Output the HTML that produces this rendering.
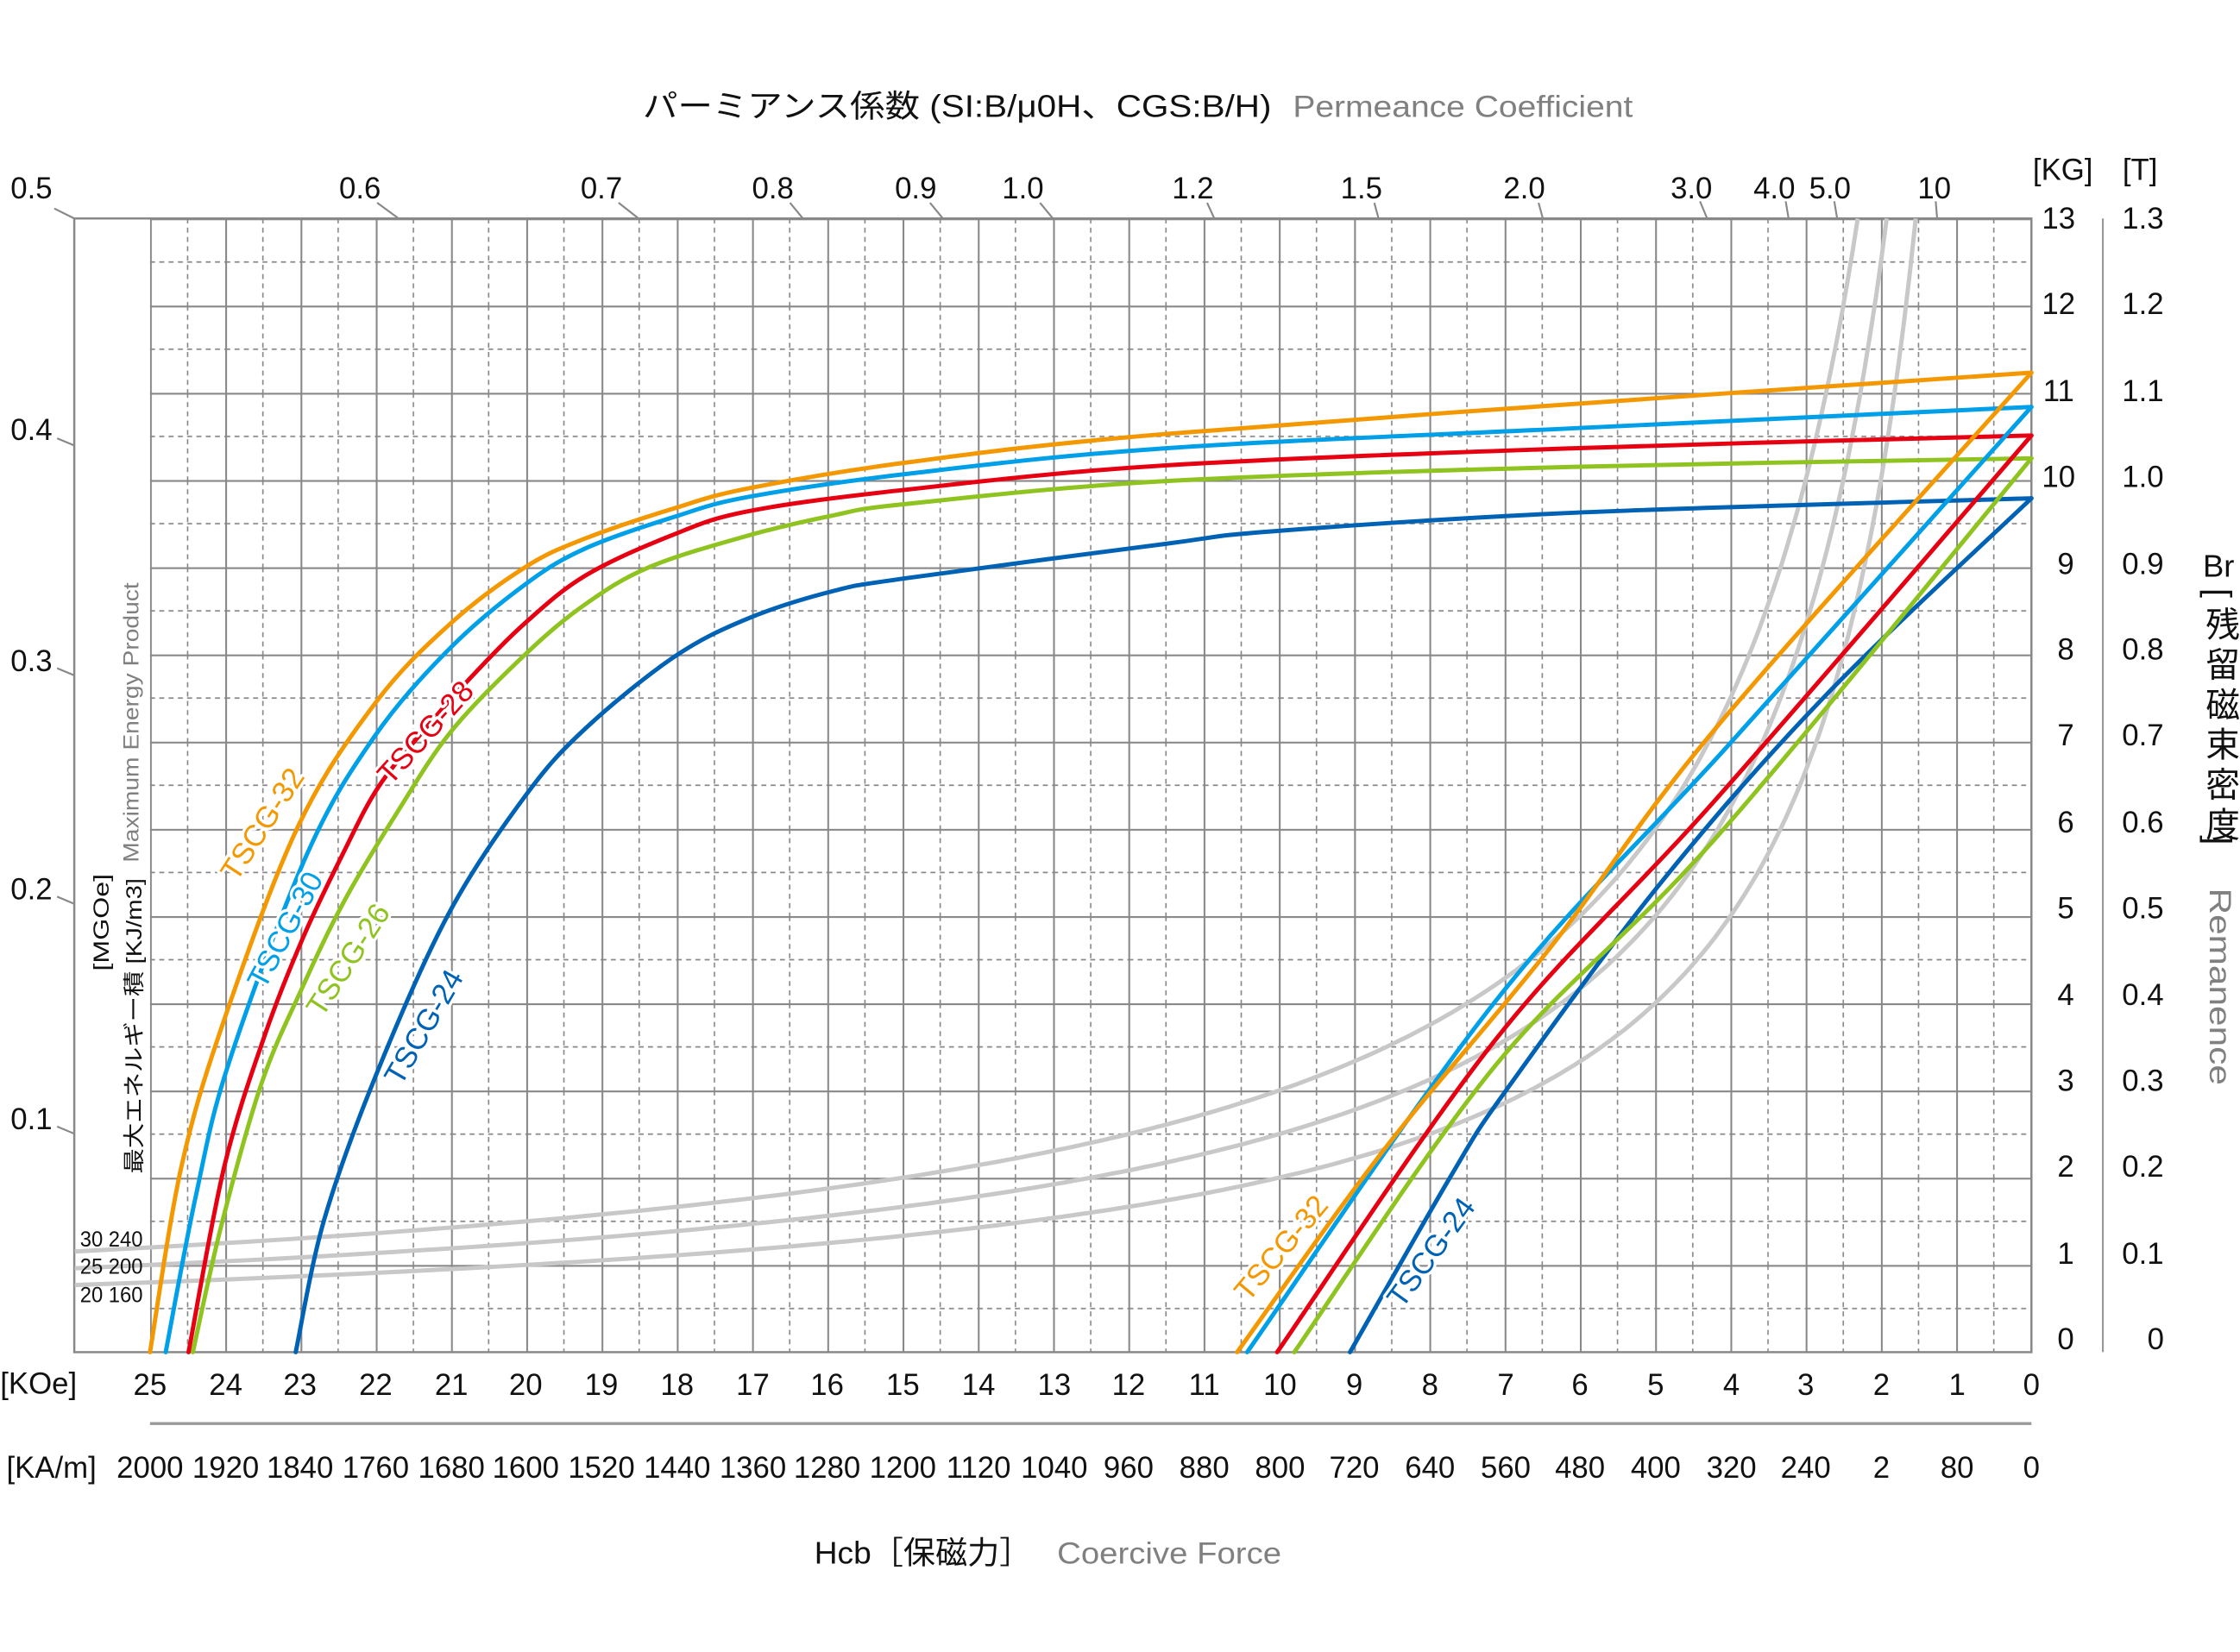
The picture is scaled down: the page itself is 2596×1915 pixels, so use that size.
<!DOCTYPE html>
<html><head><meta charset="utf-8">
<style>
html,body{margin:0;padding:0;background:#fff;}
svg{display:block;}
text{font-family:"Liberation Sans","Noto Sans CJK JP",sans-serif;fill:#111;}
.g{fill:#808080;}
.t{font-size:21px;}
.lab{font-size:21px;stroke:#fff;stroke-width:4px;paint-order:stroke;stroke-linejoin:round;}
</style></head><body>
<svg id="s" width="2596" height="1915" viewBox="0 0 1568 1157" preserveAspectRatio="none" xmlns="http://www.w3.org/2000/svg">
<defs>
<pattern id="grid" patternUnits="userSpaceOnUse" x="105" y="152.96" width="52.68" height="61.08">
<line x1="0.6" y1="0" x2="0.6" y2="61.08" stroke="#888" stroke-width="1.3"/>
<line x1="0" y1="0.6" x2="52.68" y2="0.6" stroke="#888" stroke-width="1.3"/>
<line x1="26.34" y1="0" x2="26.34" y2="61.08" stroke="#888" stroke-width="1" stroke-dasharray="3.5 3"/>
<line x1="0" y1="30.54" x2="52.68" y2="30.54" stroke="#888" stroke-width="1" stroke-dasharray="3.5 3"/>
</pattern>
</defs>
<rect x="105" y="153" width="1317" height="794" fill="url(#grid)"/>
<rect x="52" y="153" width="1370" height="794" fill="none" stroke="#888" stroke-width="1.5"/>
<line x1="1472" y1="153" x2="1472" y2="947" stroke="#999" stroke-width="1.3"/>
<line x1="105" y1="997" x2="1422" y2="997" stroke="#999" stroke-width="2"/>

<g stroke="#888" stroke-width="1.3">
<line x1="38" y1="146" x2="52" y2="153"/>
<line x1="264" y1="142" x2="279" y2="153"/>
<line x1="433" y1="142" x2="447" y2="153"/>
<line x1="553" y1="142" x2="562" y2="153"/>
<line x1="651" y1="142" x2="660" y2="153"/>
<line x1="728" y1="142" x2="737" y2="153"/>
<line x1="845" y1="142" x2="850" y2="153"/>
<line x1="962" y1="142" x2="965" y2="153"/>
<line x1="1077" y1="142" x2="1080" y2="153"/>
<line x1="1190" y1="141" x2="1195" y2="153"/>
<line x1="1250" y1="141" x2="1252" y2="153"/>
<line x1="1284" y1="141" x2="1286" y2="153"/>
<line x1="1355" y1="141" x2="1356" y2="153"/>
<line x1="40" y1="307" x2="52" y2="312"/>
<line x1="40" y1="468" x2="52" y2="473"/>
<line x1="40" y1="628" x2="52" y2="633"/>
<line x1="40" y1="789" x2="52" y2="794"/>
</g>

<g id="gray" fill="none" stroke="#c8c8c8" stroke-width="3"></g>
<g id="curves" fill="none" stroke-width="3" stroke-linejoin="round" stroke-linecap="round">
<polyline data-s="1" stroke="#0062b4" points="207,947 227,854 264,751 314,640 368,557 410,510 472,460 524,433 583,414 634,405 815,381 892,372 1104,359 1422,349"/>
<polyline data-s="1" stroke="#8fc31f" points="135,947 155,858 183,759 211,693 241,631 278,569 316,512 368,458 410,423 455,397 524,375 583,361 634,353 815,337 1100,327 1422,321"/>
<polyline data-s="1" stroke="#e60012" points="132,947 157,817 185,726 212,657 240,598 265,551 298,510 330,474 368,436 410,403 470,375 524,358 634,343 815,326 1100,314 1422,305"/>
<polyline data-s="1" stroke="#00a0e9" points="116,947 137,838 160,745 215,598 262,516 315,454 368,409 410,384 472,362 524,348 634,332 815,314 1100,300 1422,285"/>
<polyline data-s="1" stroke="#f39800" points="105,947 127,817 157,714 209,578 263,492 315,437 368,397 410,377 472,356 524,342 634,324 815,304 1201,276 1422,261"/>
<polyline data-s="1" stroke="#0062b4" points="1422,349 1278,487 1162,619 1054,764 1016,823 945,947"/>
<polyline data-s="1" stroke="#8fc31f" points="1422,321 1201,587 1047,746 906,947"/>
<polyline data-s="1" stroke="#e60012" points="1422,305 1201,560 1047,728 894,947"/>
<polyline data-s="1" stroke="#00a0e9" points="1422,285 1208,524 1047,701 873,947"/>
<polyline data-s="1" stroke="#f39800" points="1422,261 1201,510 1085,664 969,805 866,947"/>
</g>

<text class="lab" style="fill:#f39800" text-anchor="middle" dominant-baseline="middle" transform="translate(185,578) rotate(-57)">TSCG-32</text>
<text class="lab" style="fill:#00a0e9" text-anchor="middle" dominant-baseline="middle" transform="translate(201,652) rotate(-62)">TSCG-30</text>
<text class="lab" style="fill:#e60012" text-anchor="middle" dominant-baseline="middle" transform="translate(299,514) rotate(-48)">TSCG-28</text>
<text class="lab" style="fill:#8fc31f" text-anchor="middle" dominant-baseline="middle" transform="translate(245,673) rotate(-57)">TSCG-26</text>
<text class="lab" style="fill:#0062b4" text-anchor="middle" dominant-baseline="middle" transform="translate(298,720) rotate(-60)">TSCG-24</text>
<text class="lab" style="fill:#f39800" text-anchor="middle" dominant-baseline="middle" transform="translate(898,875) rotate(-50)">TSCG-32</text>
<text class="lab" style="fill:#0062b4" text-anchor="middle" dominant-baseline="middle" transform="translate(1003,878) rotate(-54)">TSCG-24</text>

<text x="56" y="873" font-size="15" textLength="44" lengthAdjust="spacingAndGlyphs">30 240</text>
<text x="56" y="892" font-size="15" textLength="44" lengthAdjust="spacingAndGlyphs">25 200</text>
<text x="56" y="912" font-size="15" textLength="44" lengthAdjust="spacingAndGlyphs">20 160</text>

<text x="450" y="82" font-size="22" textLength="440" lengthAdjust="spacingAndGlyphs">パーミアンス係数 (SI:B/μ0H、CGS:B/H)</text>
<text x="905" y="82" font-size="21" class="g" textLength="238" lengthAdjust="spacingAndGlyphs">Permeance Coefficient</text>
<text x="570" y="1095" font-size="22" textLength="152" lengthAdjust="spacingAndGlyphs">Hcb［保磁力］</text>
<text x="740" y="1095" font-size="21" class="g" textLength="157" lengthAdjust="spacingAndGlyphs">Coercive Force</text>

<text transform="translate(99,822) rotate(-90)" font-size="15" textLength="207" lengthAdjust="spacingAndGlyphs">最大エネルギー積 [KJ/m3]</text>
<text transform="translate(97,604) rotate(-90)" font-size="15" class="g" textLength="196" lengthAdjust="spacingAndGlyphs">Maximum Energy Product</text>
<text transform="translate(76,680) rotate(-90)" font-size="15" textLength="68" lengthAdjust="spacingAndGlyphs">[MGOe]</text>

<text x="1542" y="404" font-size="22">Br</text>
<text transform="translate(1545,412) rotate(90)" font-size="24">[</text>
<text transform="translate(1545,585) rotate(90)" font-size="24">]</text>
<g font-size="24" text-anchor="middle">
<text x="1556" y="446">残</text>
<text x="1556" y="474">留</text>
<text x="1556" y="502">磁</text>
<text x="1556" y="530">束</text>
<text x="1556" y="558">密</text>
<text x="1556" y="586">度</text>
</g>
<text transform="translate(1547,622) rotate(90)" font-size="21" class="g" textLength="138" lengthAdjust="spacingAndGlyphs">Remanence</text>

<g class="t" text-anchor="middle">
<text x="22" y="139">0.5</text><text x="252" y="139">0.6</text><text x="421" y="139">0.7</text>
<text x="541" y="139">0.8</text><text x="641" y="139">0.9</text><text x="716" y="139">1.0</text>
<text x="835" y="139">1.2</text><text x="953" y="139">1.5</text><text x="1067" y="139">2.0</text>
<text x="1184" y="139">3.0</text><text x="1242" y="139">4.0</text><text x="1281" y="139">5.0</text>
<text x="1354" y="139">10</text>
<text x="1444" y="126">[KG]</text><text x="1498" y="126">[T]</text>
<text x="22" y="308">0.4</text><text x="22" y="470">0.3</text><text x="22" y="630">0.2</text><text x="22" y="791">0.1</text>
</g>

<g class="t" text-anchor="middle">
<text x="1441" y="160">13</text><text x="1500" y="160">1.3</text>
<text x="1441" y="220">12</text><text x="1500" y="220">1.2</text>
<text x="1441" y="281">11</text><text x="1500" y="281">1.1</text>
<text x="1441" y="341">10</text><text x="1500" y="341">1.0</text>
<text x="1446" y="402">9</text><text x="1500" y="402">0.9</text>
<text x="1446" y="462">8</text><text x="1500" y="462">0.8</text>
<text x="1446" y="522">7</text><text x="1500" y="522">0.7</text>
<text x="1446" y="583">6</text><text x="1500" y="583">0.6</text>
<text x="1446" y="643">5</text><text x="1500" y="643">0.5</text>
<text x="1446" y="704">4</text><text x="1500" y="704">0.4</text>
<text x="1446" y="764">3</text><text x="1500" y="764">0.3</text>
<text x="1446" y="824">2</text><text x="1500" y="824">0.2</text>
<text x="1446" y="885">1</text><text x="1500" y="885">0.1</text>
<text x="1446" y="945">0</text><text x="1509" y="945">0</text>
</g>

<g class="t" text-anchor="middle">
<text x="27" y="976">[KOe]</text>
<text x="105" y="977">25</text><text x="158" y="977">24</text><text x="210" y="977">23</text><text x="263" y="977">22</text>
<text x="316" y="977">21</text><text x="368" y="977">20</text><text x="421" y="977">19</text><text x="474" y="977">18</text>
<text x="527" y="977">17</text><text x="579" y="977">16</text><text x="632" y="977">15</text><text x="685" y="977">14</text>
<text x="738" y="977">13</text><text x="790" y="977">12</text><text x="843" y="977">11</text><text x="896" y="977">10</text>
<text x="948" y="977">9</text><text x="1001" y="977">8</text><text x="1054" y="977">7</text><text x="1106" y="977">6</text>
<text x="1159" y="977">5</text><text x="1212" y="977">4</text><text x="1264" y="977">3</text><text x="1317" y="977">2</text>
<text x="1370" y="977">1</text><text x="1422" y="977">0</text>
</g>
<g class="t" text-anchor="middle">
<text x="36" y="1035">[KA/m]</text>
<text x="105" y="1035">2000</text><text x="158" y="1035">1920</text><text x="210" y="1035">1840</text><text x="263" y="1035">1760</text>
<text x="316" y="1035">1680</text><text x="368" y="1035">1600</text><text x="421" y="1035">1520</text><text x="474" y="1035">1440</text>
<text x="527" y="1035">1360</text><text x="579" y="1035">1280</text><text x="632" y="1035">1200</text><text x="685" y="1035">1120</text>
<text x="738" y="1035">1040</text><text x="790" y="1035">960</text><text x="843" y="1035">880</text><text x="896" y="1035">800</text>
<text x="948" y="1035">720</text><text x="1001" y="1035">640</text><text x="1054" y="1035">560</text><text x="1106" y="1035">480</text>
<text x="1159" y="1035">400</text><text x="1212" y="1035">320</text><text x="1264" y="1035">240</text><text x="1317" y="1035">2</text>
<text x="1370" y="1035">80</text><text x="1422" y="1035">0</text>
</g>
</svg>
<script>
(function(){
var NS="http://www.w3.org/2000/svg";
var g=document.getElementById("gray");
[30,25,20].forEach(function(C){
  var pts=[];var Hmin=C/13;
  for(var i=0;i<=200;i++){
    var H=26-(26-Hmin)*Math.pow(i/200,0.6);
    pts.push((1422-52.68*H).toFixed(1)+","+(947-61.08*C/H).toFixed(1));
  }
  var p=document.createElementNS(NS,"polyline");
  p.setAttribute("points",pts.join(" "));g.appendChild(p);
});
var pls=document.querySelectorAll("polyline[data-s]");
pls.forEach(function(pl){
  var a=pl.getAttribute("points").trim().split(/\s+/).map(function(s){return s.split(",").map(Number);});
  var d="M"+a[0][0]+","+a[0][1];
  for(var i=0;i<a.length-1;i++){
    var p0=a[i-1]||a[i],p1=a[i],p2=a[i+1],p3=a[i+2]||a[i+1];
    var c1=[p1[0]+(p2[0]-p0[0])/6,p1[1]+(p2[1]-p0[1])/6];
    var c2=[p2[0]-(p3[0]-p1[0])/6,p2[1]-(p3[1]-p1[1])/6];
    d+=" C"+c1.join(",")+" "+c2.join(",")+" "+p2.join(",");
  }
  var p=document.createElementNS(NS,"path");
  p.setAttribute("d",d);p.setAttribute("stroke",pl.getAttribute("stroke"));
  pl.parentNode.replaceChild(p,pl);
});
})();
</script>
</body></html>
